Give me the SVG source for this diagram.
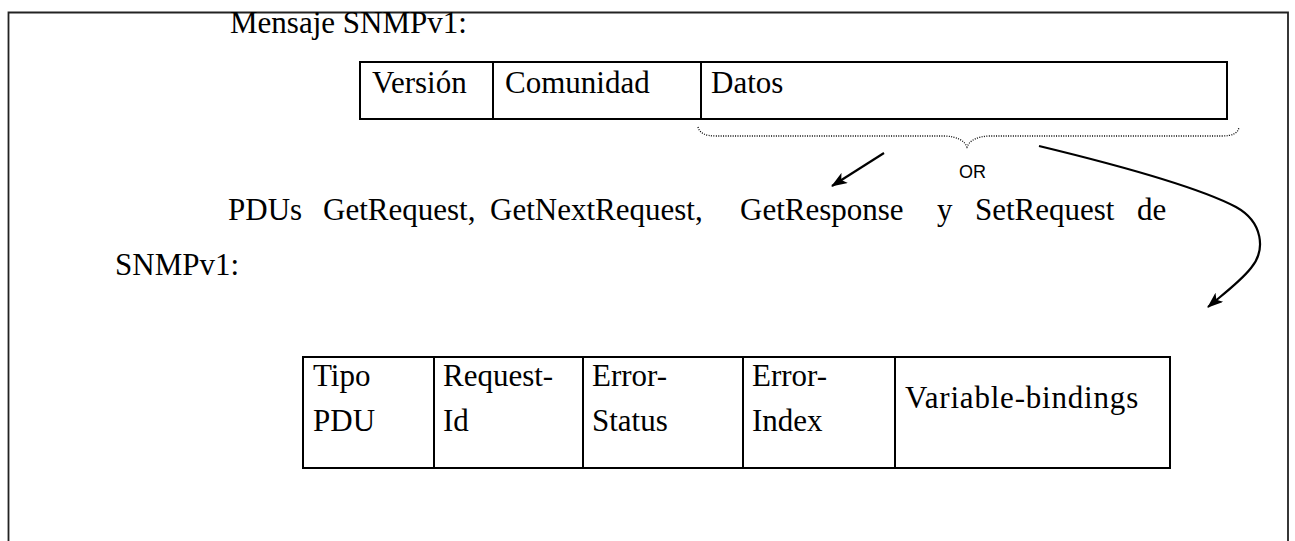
<svg xmlns="http://www.w3.org/2000/svg" width="1295" height="541" viewBox="0 0 1295 541">
<defs>
<style>
.t{font-family:"Liberation Serif","Times New Roman",serif;font-size:31px;fill:#000}
.s{font-family:"Liberation Sans Narrow","Liberation Sans",Arial,sans-serif;font-size:18px;fill:#000}
.box{fill:#fff;stroke:#000;stroke-width:2}
.ln{stroke:#000;stroke-width:2;fill:none}
.arr{stroke:#000;stroke-width:2.2;fill:none;marker-end:url(#ah)}
.dot{stroke:#000;stroke-width:1.3;fill:none;stroke-dasharray:1 1.4}
</style>
<marker id="ah" viewBox="0 0 16 12" refX="15" refY="6" markerWidth="16" markerHeight="12" markerUnits="userSpaceOnUse" orient="auto">
<path d="M0,0 L16,6 L0,12 L4,6 z" fill="#000"/>
</marker>
</defs>
<rect x="0" y="0" width="1295" height="541" fill="#fff"/>
<path d="M8.5,545 V12.5 H1288 V545" fill="none" stroke="#222" stroke-width="1.8"/>

<g id="title"><text class="t" x="230" y="33">Mensaje SNMPv1:</text></g>

<g id="msg">
<rect class="box" x="360" y="62" width="867" height="57"/>
<line class="ln" x1="493" y1="62" x2="493" y2="119"/>
<line class="ln" x1="701" y1="62" x2="701" y2="119"/>
<text class="t" x="372" y="93">Versión</text>
<text class="t" x="505" y="93">Comunidad</text>
<text class="t" x="711" y="93">Datos</text>
</g>

<g id="para">
<text class="t" y="220"><tspan x="228">PDUs</tspan><tspan x="323">GetRequest,</tspan><tspan x="490">GetNextRequest,</tspan><tspan x="740">GetResponse</tspan><tspan x="937">y</tspan><tspan x="975">SetRequest</tspan><tspan x="1137">de</tspan></text>
<text class="t" x="115" y="275">SNMPv1:</text>
</g>

<g id="pdu">
<rect class="box" x="303" y="357" width="867" height="111"/>
<line class="ln" x1="434" y1="357" x2="434" y2="468"/>
<line class="ln" x1="583" y1="357" x2="583" y2="468"/>
<line class="ln" x1="743" y1="357" x2="743" y2="468"/>
<line class="ln" x1="895" y1="357" x2="895" y2="468"/>
<text class="t" x="313" y="386">Tipo</text>
<text class="t" x="313" y="431">PDU</text>
<text class="t" x="443" y="386">Request-</text>
<text class="t" x="443" y="431">Id</text>
<text class="t" x="592" y="386">Error-</text>
<text class="t" x="592" y="431">Status</text>
<text class="t" x="752" y="386">Error-</text>
<text class="t" x="752" y="431">Index</text>
<text class="t" x="905" y="408" letter-spacing="0.8">Variable-bindings</text>
</g>

<g id="connectors">
<path class="dot" d="M698,127 Q700,136 716,136 L945,136 Q963,137 967,147 Q971,137 989,136 L1222,136 Q1238,136 1239,127"/>
<text class="s" x="959" y="178">OR</text>
<path class="arr" d="M884,153 L832,186"/>
<path class="arr" d="M1039,146 C1130,168 1200,188 1236,207 C1263,222 1266,250 1251,268 C1240,282 1222,295 1208,307"/>
</g>
</svg>
